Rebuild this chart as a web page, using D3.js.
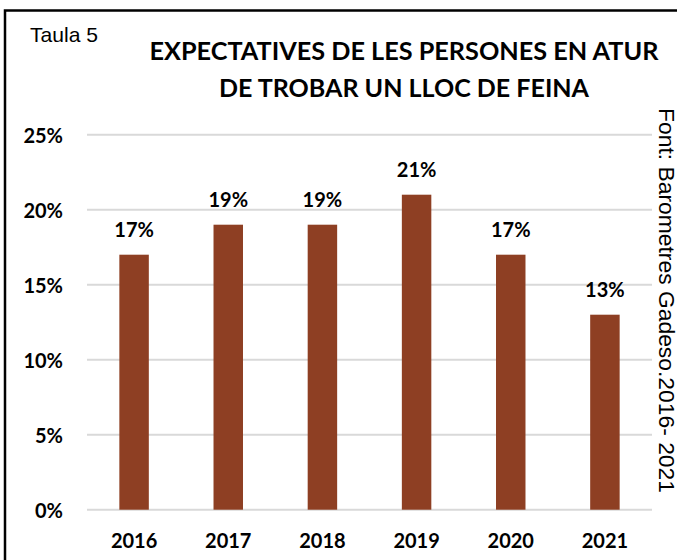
<!DOCTYPE html>
<html>
<head>
<meta charset="utf-8">
<script src="https://cdn.jsdelivr.net/npm/d3@7"></script>
<style>
  html, body { margin: 0; padding: 0; background: #fff; overflow: hidden; }
  svg { display: block; }
</style>
</head>
<body>
<svg id="chart" width="677" height="560"></svg>
<script>
const years = ["2016", "2017", "2018", "2019", "2020", "2021"];
const values = [0.17, 0.19, 0.19, 0.21, 0.17, 0.13];
const yTicks = [0, 0.05, 0.10, 0.15, 0.20, 0.25];
const titleLines = ["EXPECTATIVES DE LES PERSONES EN ATUR", "DE TROBAR UN LLOC DE FEINA"];
const tableLabel = "Taula 5";
const sourceLabel = "Font: Barometres Gadeso.2016- 2021";

const svg = d3.select("#chart");
const boldFont = "Lato, 'Open Sans', sans-serif";
const plainFont = "'Liberation Sans', Arial, sans-serif";

const plot = { left: 87, right: 652, top: 134.7, bottom: 509.7 };

const x = d3.scaleBand().domain(years).range([plot.left, plot.right])
  .paddingInner(0.687).paddingOuter(0.3435);
const y = d3.scaleLinear().domain([0, 0.25]).range([plot.bottom, plot.top]);

// frame
svg.append("rect").attr("x", 5).attr("y", 10.5).attr("width", 700).attr("height", 600)
  .attr("fill", "none").attr("stroke", "#000").attr("stroke-width", 2.5);

// table label
svg.append("text").attr("x", 30).attr("y", 41.7)
  .attr("font-family", plainFont).attr("font-size", 21)
  .attr("textLength", 68).attr("lengthAdjust", "spacingAndGlyphs")
  .attr("fill", "#000").text(tableLabel);

// title
const titleWidths = [509, 370];
const titleBase = [60, 96.7];
titleLines.forEach((t, i) => {
  svg.append("text").attr("x", 404).attr("y", titleBase[i])
    .attr("text-anchor", "middle")
    .attr("font-family", boldFont).attr("font-weight", "bold").attr("font-size", 24)
    .attr("textLength", titleWidths[i]).attr("lengthAdjust", "spacingAndGlyphs")
    .attr("fill", "#000").text(t);
});

// gridlines
svg.append("g").selectAll("line").data(yTicks).join("line")
  .attr("x1", plot.left).attr("x2", plot.right)
  .attr("y1", d => y(d)).attr("y2", d => y(d))
  .attr("stroke", "#d9d9d9").attr("stroke-width", 2);

// y axis labels
const yAxis = d3.axisLeft(y).tickValues(yTicks).tickFormat(d3.format(".0%"))
  .tickSize(0).tickPadding(0);
const gy = svg.append("g").attr("transform", "translate(63,0)").call(yAxis);
gy.select(".domain").remove();
gy.selectAll("text").attr("font-family", boldFont).attr("font-weight", "bold")
  .attr("font-size", 20).attr("fill", "#000").attr("dy", null).attr("y", 8);

// bars
svg.append("g").selectAll("rect").data(values).join("rect")
  .attr("x", (d, i) => x(years[i])).attr("width", x.bandwidth())
  .attr("y", d => y(d)).attr("height", d => y(0) - y(d))
  .attr("fill", "#8E3F23");

// value labels
svg.append("g").selectAll("text").data(values).join("text")
  .attr("x", (d, i) => x(years[i]) + x.bandwidth() / 2)
  .attr("y", d => y(d) - 17.5)
  .attr("text-anchor", "middle")
  .attr("font-family", boldFont).attr("font-weight", "bold").attr("font-size", 20)
  .attr("fill", "#000")
  .text(d => d3.format(".0%")(d));

// x axis
const xAxis = d3.axisBottom(x).tickSize(0).tickPadding(0);
const gx = svg.append("g").attr("transform", `translate(0,${plot.bottom})`).call(xAxis);
gx.select(".domain").remove();
gx.selectAll("text").attr("font-family", boldFont).attr("font-weight", "bold")
  .attr("font-size", 20).attr("fill", "#000").attr("dy", null).attr("y", 38.5);

// source (vertical)
svg.append("text").attr("transform", "translate(659,108) rotate(90)")
  .attr("font-family", plainFont).attr("font-size", 21.5)
  .attr("textLength", 385).attr("lengthAdjust", "spacingAndGlyphs")
  .attr("fill", "#000").text(sourceLabel);
</script>
</body>
</html>
